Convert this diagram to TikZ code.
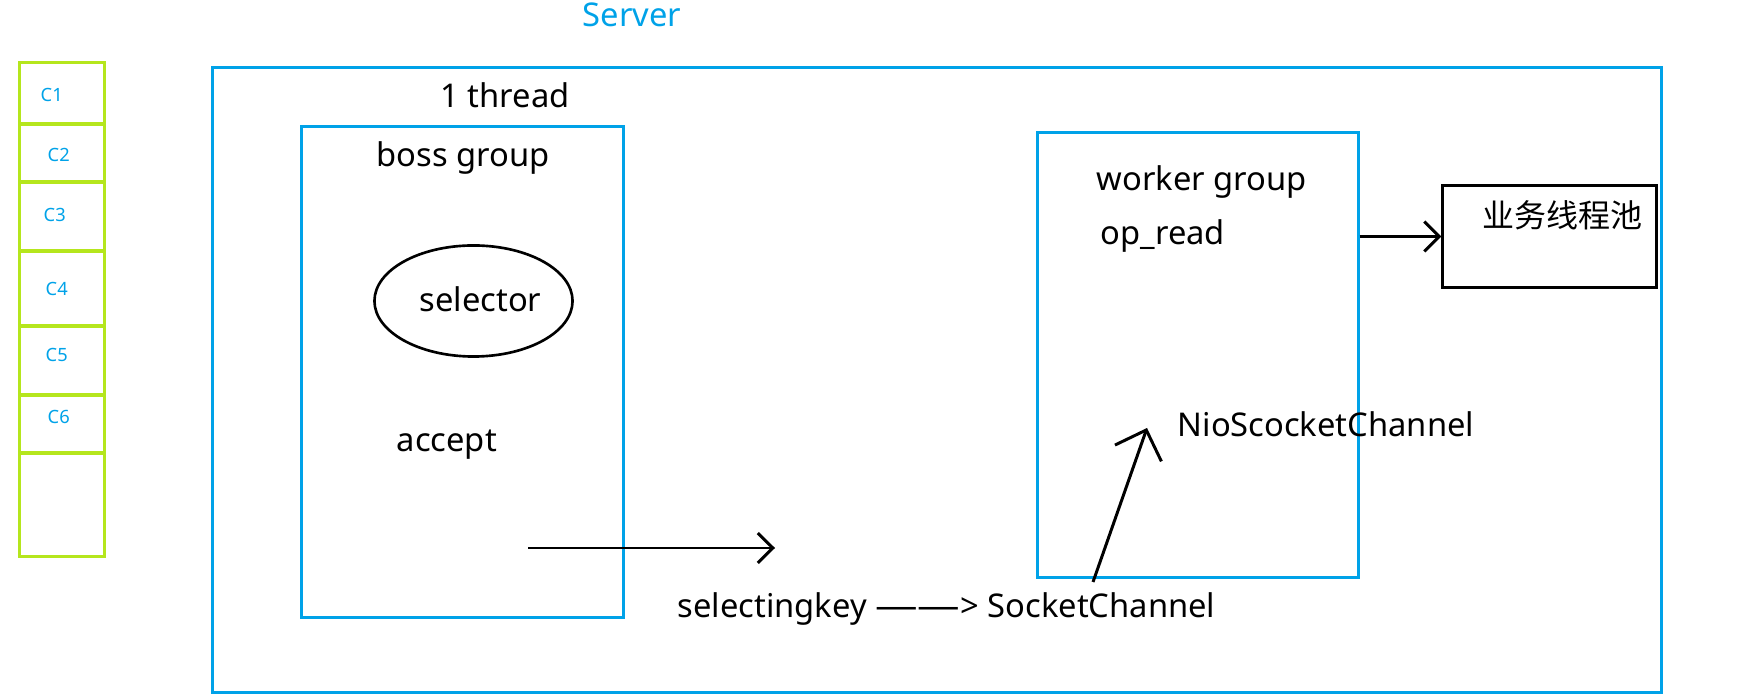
\documentclass[tikz,border=0pt]{standalone}
\usepackage{fontspec}
\setmainfont{Noto Sans}
\newfontfamily\cjkfont{Noto Sans CJK SC}
\usetikzlibrary{arrows.meta,shapes.geometric}
\definecolor{pblue}{RGB}{0,162,232}
\definecolor{pgreen}{RGB}{181,230,29}
\tikzset{
  bluebox/.style={draw=pblue, line width=0.85pt, inner sep=0, rectangle},
  cell/.style={draw=pgreen, line width=0.85pt, inner sep=0, minimum width=0.84cm},
  txt/.style={inner sep=0, anchor=base west, font=\fontsize{9.3}{11}\selectfont},
  ctxt/.style={inner sep=0, anchor=base west, text=pblue, font=\fontsize{5.2}{6}\selectfont},
  arr/.style={line width=0.85pt, -{Straight Barb[length=4.3pt, width=8.5pt, line width=0.85pt]}},
  bigarr/.style={line width=0.85pt, -{Straight Barb[length=7pt, width=14pt, line width=0.85pt]}},
}
\begin{document}
\begin{tikzpicture}[x=0.01cm, y=-0.01cm]
\useasboundingbox (0,0) rectangle (1743,698);
% server
\node[bluebox, minimum width=14.48cm, minimum height=6.24cm] (server) at (937,380) {};
\node[txt, text=pblue] (servert) at (582,27) {Server};
% clients
\node[cell, minimum height=0.61cm] (c1) at (62,93.5) {};
\node[cell, minimum height=0.58cm] (c2) at (62,153) {};
\node[cell, minimum height=0.69cm] (c3) at (62,216.5) {};
\node[cell, minimum height=0.75cm] (c4) at (62,288.5) {};
\node[cell, minimum height=0.69cm] (c5) at (62,360.5) {};
\node[cell, minimum height=0.58cm] (c6) at (62,424) {};
\node[cell, minimum height=1.03cm] (c7) at (62,504.5) {};
\node[ctxt] (l1) at (40,102) {C1};
\node[ctxt] (l2) at (47,162) {C2};
\node[ctxt] (l3) at (43,222) {C3};
\node[ctxt] (l4) at (45,296) {C4};
\node[ctxt] (l5) at (45,362) {C5};
\node[ctxt] (l6) at (47,424) {C6};
% boss
\node[txt] (thread) at (440,108) {1 thread};
\node[bluebox, minimum width=3.21cm, minimum height=4.90cm] (boss) at (462.5,372) {};
\node[txt] (bosst) at (376,167) {boss group};
\node[draw, ellipse, line width=0.75pt, minimum width=1.98cm, minimum height=1.11cm] (sel) at (473.5,301) {};
\node[txt] (selt) at (419,312) {selector};
\node[txt] (acc) at (396,452) {accept};
\coordinate (a1) at (528,548);
\coordinate (a2) at (775,548);
\draw[arr] (a1) -- (a2);
% worker
\node[bluebox, minimum width=3.20cm, minimum height=4.44cm] (worker) at (1198,355) {};
\node[txt] (workt) at (1096,191) {worker group};
\node[txt] (opr) at (1100,245) {op\_read};
\node[txt] (nio) at (1177,437) {NioScocketChannel};
\node[txt] (sk) at (677,618) {selectingkey \scalebox{1.3}[1]{——}> SocketChannel};
\coordinate (s1) at (1093,582);
\coordinate (s2) at (1147,428);
\draw[bigarr] (s1) -- (s2);
% pool
\node[draw, line width=0.85pt, inner sep=0, minimum width=2.13cm, minimum height=1.01cm] (pool) at (1549.5,236.5) {};
\node[txt, font=\cjkfont\fontsize{9.1}{11}\selectfont] (poolt) at (1482,228) {业务线程池};
\draw[arr] (worker.east |- pool.west) -- (pool.west);
\end{tikzpicture}
\end{document}
